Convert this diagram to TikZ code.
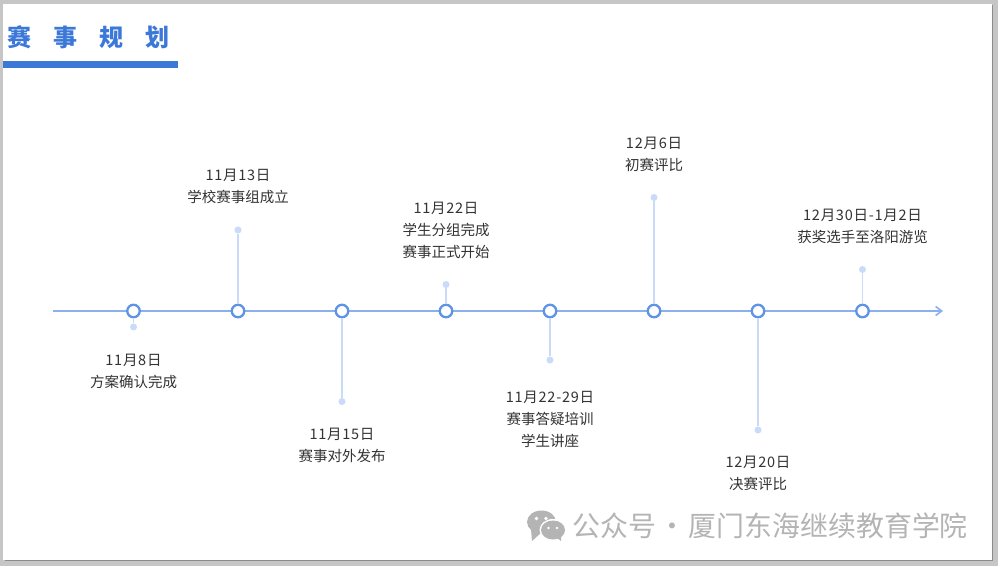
\documentclass[tikz,border=0pt]{standalone}
\usepackage{fontspec}
\setmainfont{Noto Sans CJK SC}
\newfontface\datefont[LetterSpace=5]{Noto Sans CJK SC}
\usepackage{tikz}
\usetikzlibrary{arrows.meta}
\definecolor{pageGray}{HTML}{C6C6C6}
\definecolor{shadeGray}{HTML}{8C8C8C}
\definecolor{titleBlue}{HTML}{3B78D8}
\definecolor{axisBlue}{HTML}{8AB0EE}
\definecolor{ringBlue}{HTML}{5F93E3}
\definecolor{stemBlue}{HTML}{C9DBF8}
\definecolor{labelInk}{HTML}{333333}
\definecolor{markGray}{HTML}{B4B4B4}
\tikzset{
  ringnode/.style={circle,draw=ringBlue,fill=white,line width=2.3pt,minimum size=12.5pt,inner sep=0pt},
  dotnode/.style={circle,fill=stemBlue,minimum size=7pt,inner sep=0pt},
  stemline/.style={draw=stemBlue,line width=1.4pt},
  datelabel/.style={text=labelInk,align=center,inner sep=0pt,font=\fontsize{14.5}{22}\selectfont},
}

\begin{document}
\begin{tikzpicture}[x=1pt,y=-1pt]
  \useasboundingbox (0,0) rectangle (998,566);
  % page and shadow
  \fill[pageGray] (0,0) rectangle (998,566);
  \fill[shadeGray] (5,5) rectangle (993,561);
  \fill[white] (3,3.5) rectangle (992,560);
  % title
  \node[text=titleBlue,inner sep=0pt,font=\fontsize{24}{24}\selectfont\bfseries] (title) at (89,37.5) {赛\hspace{22pt}事\hspace{22pt}规\hspace{22pt}划};
  \fill[titleBlue] (3,61) rectangle (178,68);
  % axis
  \coordinate (axisStart) at (53,311);
  \coordinate (axisEnd) at (943,311);
  \draw[draw=axisBlue,line width=1.8pt,-{Straight Barb[length=6pt,width=9pt,line width=1.6pt]}] (axisStart) -- (axisEnd);
  % rings
  \node[ringnode] (r1) at (133.5,311) {};
  \node[ringnode] (r2) at (238,311) {};
  \node[ringnode] (r3) at (342,311) {};
  \node[ringnode] (r4) at (446,311) {};
  \node[ringnode] (r5) at (550,311) {};
  \node[ringnode] (r6) at (654,311) {};
  \node[ringnode] (r7) at (758,311) {};
  \node[ringnode] (r8) at (862.5,311) {};
  % dots
  \node[dotnode] (d1) at (133.5,327) {};
  \node[dotnode] (d2) at (238,230) {};
  \node[dotnode] (d3) at (342,401.5) {};
  \node[dotnode] (d4) at (446,284.5) {};
  \node[dotnode] (d5) at (550,360) {};
  \node[dotnode] (d6) at (654,197.5) {};
  \node[dotnode] (d7) at (758,430) {};
  \node[dotnode] (d8) at (862.5,269.5) {};
  % stems
  \draw[stemline] (r1) -- (d1);
  \draw[stemline] (r2) -- (d2);
  \draw[stemline] (r3) -- (d3);
  \draw[stemline] (r4) -- (d4);
  \draw[stemline] (r5) -- (d5);
  \draw[stemline] (r6) -- (d6);
  \draw[stemline] (r7) -- (d7);
  \draw[stemline] (r8) -- (d8);
  % labels
  \node[datelabel] (l1) at (133.5,371.3) {{\datefont 11月8日}\\方案确认完成};
  \node[datelabel] (l2) at (238,186.3) {{\datefont 11月13日}\\学校赛事组成立};
  \node[datelabel] (l3) at (342,445.3) {{\datefont 11月15日}\\赛事对外发布};
  \node[datelabel] (l4) at (446,230.3) {{\datefont 11月22日}\\学生分组完成\\赛事正式开始};
  \node[datelabel] (l5) at (550,419.3) {{\datefont 11月22-29日}\\赛事答疑培训\\学生讲座};
  \node[datelabel] (l6) at (654,154.3) {{\datefont 12月6日}\\初赛评比};
  \node[datelabel] (l7) at (758,473.3) {{\datefont 12月20日}\\决赛评比};
  \node[datelabel] (l8) at (862.5,226.3) {{\datefont 12月30日-1月2日}\\获奖选手至洛阳游览};
  % watermark
  \fill[markGray] (541.5,522) ellipse (14.5 and 11.5);
  \fill[markGray] (531,529) -- (532,541) -- (542,532) -- cycle;
  \fill[white] (553,530) ellipse (13.5 and 11);
  \fill[markGray] (553,530) ellipse (12 and 9.5);
  \fill[markGray] (556,537) -- (561,541) -- (561,535) -- cycle;
  \fill[white] (536.5,518.5) circle (1.8);
  \fill[white] (546,518.5) circle (1.8);
  \fill[white] (548.5,528) circle (1.4);
  \fill[white] (557,528) circle (1.4);
  \node[text=markGray,inner sep=0pt,anchor=west,font=\fontsize{27.9}{28}\selectfont] (mark) at (572,526) {公众号\hspace{2.5pt}·\hspace{2.5pt}厦门东海继续教育学院};
\end{tikzpicture}
\end{document}
